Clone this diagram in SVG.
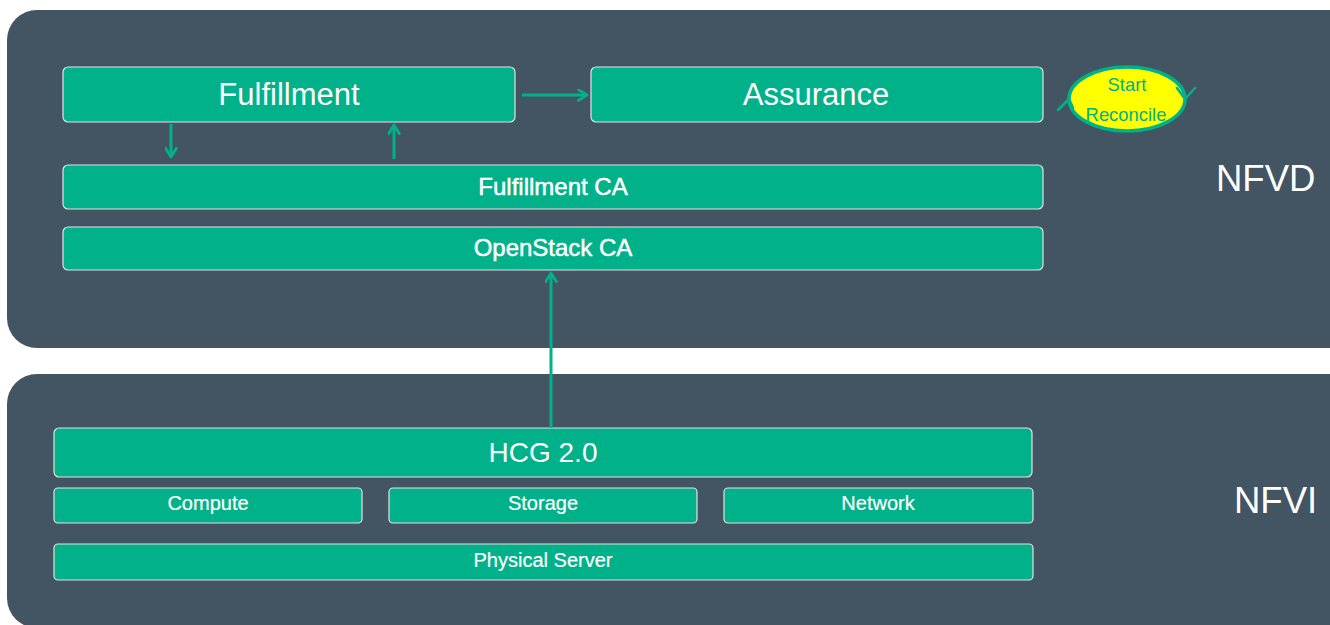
<svg xmlns="http://www.w3.org/2000/svg" width="1330" height="625" viewBox="0 0 1330 625">
  <defs>
    <style>
      .panel { fill: #435462; }
      .box { fill: #00b189; stroke: #e3e3e3; stroke-width: 1.2; }
      .lbl { font-family: "Liberation Sans", Arial, sans-serif; fill: #ffffff; text-anchor: middle; }
      .big { font-size: 31px; }
      .mid { font-size: 24px; stroke: #ffffff; stroke-width: 0.5; }
      .sm { font-size: 20px; stroke: #ffffff; stroke-width: 0.2; }
      .side { font-family: "Liberation Sans", Arial, sans-serif; fill: #ffffff; font-size: 36.5px; }
      .conn { stroke: #00b189; stroke-width: 3; fill: none; }
    </style>
    <marker id="head" viewBox="0 0 12 12" refX="10" refY="6" markerWidth="13" markerHeight="13" markerUnits="userSpaceOnUse" orient="auto">
      <path d="M2,1 L10,6 L2,11" fill="none" stroke="#00b189" stroke-width="2.6" stroke-linecap="round" stroke-linejoin="round"/>
    </marker>
  </defs>

  <rect width="1330" height="625" fill="#ffffff"/>

  <!-- layer panels -->
  <rect class="panel" x="7" y="10" width="1360" height="338" rx="30"/>
  <rect class="panel" x="7" y="374" width="1360" height="254" rx="30"/>

  <!-- NFVD layer -->
  <g id="fulfillment">
    <rect class="box" x="63" y="67" width="452" height="55" rx="5"/>
    <text class="lbl big" x="289" y="105">Fulfillment</text>
  </g>
  <g id="assurance">
    <rect class="box" x="591" y="67" width="452" height="55" rx="5"/>
    <text class="lbl big" x="816" y="105">Assurance</text>
  </g>
  <g id="fulfillment-ca">
    <rect class="box" x="63" y="165" width="980" height="44" rx="5"/>
    <text class="lbl mid" x="553" y="195">Fulfillment CA</text>
  </g>
  <g id="openstack-ca">
    <rect class="box" x="63" y="227" width="980" height="43" rx="5"/>
    <text class="lbl mid" x="553" y="256">OpenStack CA</text>
  </g>
  <g id="reconcile">
    <ellipse cx="1127" cy="99" rx="58" ry="32" fill="#ffff00" stroke="#00b189" stroke-width="3.5"/>
    <path d="M1058,110 L1069,99 L1073,108" fill="none" stroke="#00b189" stroke-width="2.6" stroke-linecap="round" stroke-linejoin="round"/>
    <path d="M1177,88 L1185,99 L1195,88" fill="none" stroke="#00b189" stroke-width="2.6" stroke-linecap="round" stroke-linejoin="round"/>
    <text x="1127" y="91" font-family="Liberation Sans, Arial, sans-serif" font-size="18.4" fill="#00b189" text-anchor="middle">Start</text>
    <text x="1126" y="121" font-family="Liberation Sans, Arial, sans-serif" font-size="18.4" fill="#00b189" text-anchor="middle">Reconcile</text>
  </g>
  <g id="nfvd-label">
    <text class="side" x="1216" y="191">NFVD</text>
  </g>

  <!-- NFVI layer -->
  <g id="hcg">
    <rect class="box" x="54" y="428" width="978" height="49" rx="5"/>
    <text class="lbl" x="543" y="462" style="font-size:28px">HCG 2.0</text>
  </g>
  <g id="compute">
    <rect class="box" x="54" y="488" width="308" height="35" rx="4"/>
    <text class="lbl sm" x="208" y="510">Compute</text>
  </g>
  <g id="storage">
    <rect class="box" x="389" y="488" width="308" height="35" rx="4"/>
    <text class="lbl sm" x="543" y="510">Storage</text>
  </g>
  <g id="network">
    <rect class="box" x="724" y="488" width="309" height="35" rx="4"/>
    <text class="lbl sm" x="878" y="510">Network</text>
  </g>
  <g id="physical-server">
    <rect class="box" x="54" y="544" width="979" height="36" rx="4"/>
    <text class="lbl sm" x="543" y="567">Physical Server</text>
  </g>
  <g id="nfvi-label">
    <text class="side" x="1234" y="513">NFVI</text>
  </g>

  <!-- connectors -->
  <g id="connectors">
    <line class="conn" x1="522" y1="95" x2="587" y2="95" marker-end="url(#head)"/>
    <line class="conn" x1="171" y1="124" x2="171" y2="157" marker-end="url(#head)"/>
    <line class="conn" x1="394" y1="159" x2="394" y2="125" marker-end="url(#head)"/>
    <line class="conn" x1="551" y1="428" x2="551" y2="273" marker-end="url(#head)"/>
  </g>
</svg>
